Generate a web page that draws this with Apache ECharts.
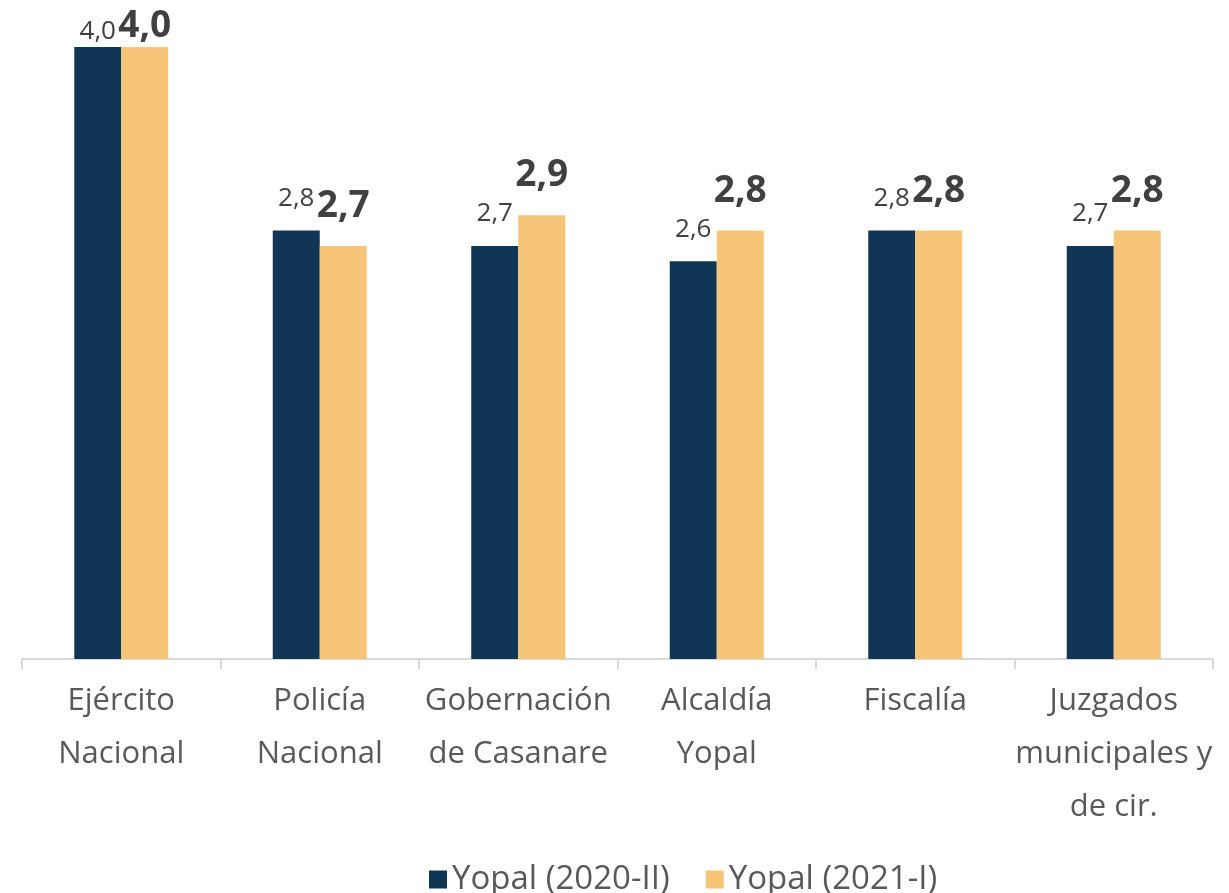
<!DOCTYPE html>
<html>
<head>
<meta charset="utf-8">
<script src="https://cdn.jsdelivr.net/npm/echarts@6/dist/echarts.min.js"></script>
<style>
  html, body { margin: 0; padding: 0; background: #fff; }
  #chart { width: 1229px; height: 893px; }
</style>
</head>
<body>
<div id="chart"></div>
<script>
// categorías
const categories = ['Ejército\nNacional', 'Policía\nNacional', 'Gobernación\nde Casanare', 'Alcaldía\nYopal', 'Fiscalía', 'Juzgados\nmunicipales y\nde cir.'];
const yopal2020II = [4.0, 2.8, 2.7, 2.6, 2.8, 2.7];
const yopal2021I = [4.0, 2.7, 2.9, 2.8, 2.8, 2.8];

const fmt = p => p.value.toFixed(1).replace('.', ',');
// la primera etiqueta queda pegada al borde superior
const toItems = arr => arr.map((v, i) => i === 0 ? { value: v, label: { distance: 2 } } : v);

const chart = echarts.init(document.getElementById('chart'));
chart.setOption({
  animation: false,
  textStyle: { fontFamily: 'Open Sans' },
  grid: { left: 22, right: 16, top: 47, bottom: 234 },
  legend: {
    left: 424, top: 858,
    itemWidth: 18, itemHeight: 18, itemGap: 36,
    icon: 'rect',
    textStyle: { fontSize: 33, color: '#595959', fontFamily: 'Open Sans' },
    data: ['Yopal (2020-II)', 'Yopal (2021-I)']
  },
  xAxis: {
    type: 'category',
    data: categories,
    axisLine: { lineStyle: { color: '#d9d9d9', width: 2 } },
    axisTick: { show: true, length: 10, lineStyle: { color: '#d9d9d9', width: 2 } },
    axisLabel: { fontSize: 31, color: '#595959', lineHeight: 53, margin: 16, interval: 0, fontFamily: 'Open Sans' }
  },
  yAxis: {
    type: 'value', min: 0, max: 4,
    show: false
  },
  series: [
    {
      name: 'Yopal (2020-II)', type: 'bar', data: toItems(yopal2020II),
      barWidth: 47, barGap: '0%',
      itemStyle: { color: '#113655' },
      label: { show: true, position: 'top', distance: 19, formatter: fmt, fontSize: 26, color: '#404040' }
    },
    {
      name: 'Yopal (2021-I)', type: 'bar', data: toItems(yopal2021I),
      barWidth: 47,
      itemStyle: { color: '#F6C577' },
      label: { show: true, position: 'top', distance: 21, formatter: fmt, fontSize: 37, fontWeight: 'bold', color: '#404040' }
    }
  ]
});
</script>
</body>
</html>
